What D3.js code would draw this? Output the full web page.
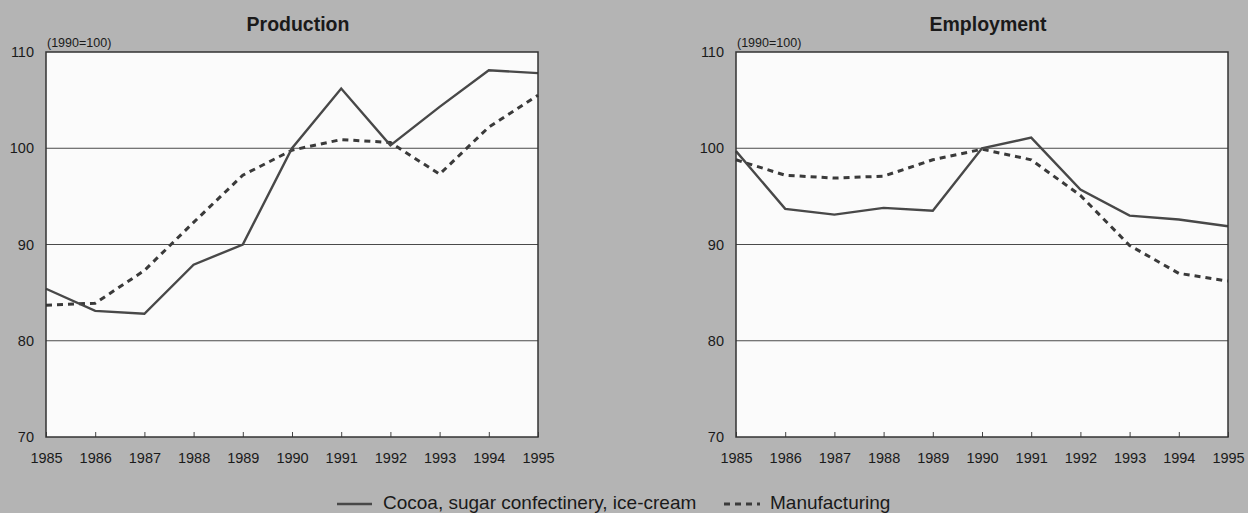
<!DOCTYPE html>
<html lang="en">
<head>
<meta charset="utf-8">
<title>Production and Employment</title>
<script src="https://d3js.org/d3.v7.min.js"></script>
<style>
	body { margin: 0; background: #b4b4b4; }
	text { font-family: 'Liberation Sans', Arial, sans-serif; fill: #1a1a1a; }
</style>
</head>
<body>
<script>
// years on the x axis
var years = [1985, 1986, 1987, 1988, 1989, 1990, 1991, 1992, 1993, 1994, 1995];
var yTicks = [70, 80, 90, 100, 110];

// Production index (1990=100)
var prodCocoa = [85.4, 83.1, 82.8, 87.9, 90.0, 100.0, 106.2, 100.3, 104.3, 108.1, 107.8];
var prodManu  = [83.7, 83.9, 87.3, 92.3, 97.2, 99.8, 100.9, 100.6, 97.3, 102.2, 105.5];

// Employment index (1990=100)
var empCocoa = [99.7, 93.7, 93.1, 93.8, 93.5, 100.0, 101.1, 95.7, 93.0, 92.6, 91.9];
var empManu  = [98.8, 97.2, 96.9, 97.1, 98.8, 99.9, 98.8, 95.1, 89.9, 87.0, 86.2];

var W = 1248, H = 513;
var svg = d3.select("body").append("svg")
	.attr("width", W)
	.attr("height", H);

svg.append("rect")
	.attr("width", W).attr("height", H)
	.attr("fill", "#b4b4b4");

var plotTop = 52, plotBottom = 437;

function drawPanel(left, right, title, cocoa, manu) {
	var x = d3.scaleLinear().domain([1985, 1995]).range([left, right]);
	var y = d3.scaleLinear().domain([70, 110]).range([plotBottom, plotTop]);
	var g = svg.append("g");

	// plot background
	g.append("rect")
		.attr("x", left).attr("y", plotTop)
		.attr("width", right - left).attr("height", plotBottom - plotTop)
		.attr("fill", "#fbfbfb");

	// gridlines
	g.selectAll(".grid")
		.data([80, 90, 100])
		.enter().append("line")
		.attr("x1", left).attr("x2", right)
		.attr("y1", function(d) { return y(d); })
		.attr("y2", function(d) { return y(d); })
		.attr("stroke", "#4a4a4a")
		.attr("stroke-width", 1);

	// y labels
	g.selectAll(".ylab")
		.data(yTicks)
		.enter().append("text")
		.attr("x", left - 12)
		.attr("y", function(d) { return y(d) + 5; })
		.attr("text-anchor", "end")
		.attr("font-size", 14.5)
		.text(function(d) { return d; });

	// x ticks (inward) and labels
	var xAxis = d3.axisBottom(x)
		.tickValues(years)
		.tickFormat(d3.format("d"))
		.tickSize(-5)
		.tickPadding(16);
	var ax = g.append("g")
		.attr("transform", "translate(0," + plotBottom + ")")
		.call(xAxis);
	ax.select(".domain").remove();
	ax.selectAll("line").attr("stroke", "#444");
	ax.selectAll("text")
		.attr("font-size", 14.5)
		.attr("fill", "#1a1a1a")
		.style("font-family", "'Liberation Sans', Arial, sans-serif");

	var line = d3.line()
		.x(function(d, i) { return x(years[i]); })
		.y(function(d) { return y(d); });

	g.append("path")
		.datum(manu)
		.attr("d", line)
		.attr("fill", "none")
		.attr("stroke", "#3a3a3a")
		.attr("stroke-width", 3)
		.attr("stroke-dasharray", "6,5");

	g.append("path")
		.datum(cocoa)
		.attr("d", line)
		.attr("fill", "none")
		.attr("stroke", "#484848")
		.attr("stroke-width", 2.4);

	// frame
	g.append("rect")
		.attr("x", left).attr("y", plotTop)
		.attr("width", right - left).attr("height", plotBottom - plotTop)
		.attr("fill", "none")
		.attr("stroke", "#333")
		.attr("stroke-width", 1.5);

	g.append("text")
		.attr("x", (left + right) / 2 + 6)
		.attr("y", 31)
		.attr("text-anchor", "middle")
		.attr("font-size", 19.5)
		.attr("font-weight", "bold")
		.text(title);

	g.append("text")
		.attr("x", left + 1)
		.attr("y", 47)
		.attr("font-size", 12.5)
		.text("(1990=100)");
}

drawPanel(46, 538, "Production", prodCocoa, prodManu);
drawPanel(736, 1228, "Employment", empCocoa, empManu);

// legend
var leg = svg.append("g");
leg.append("line")
	.attr("x1", 337).attr("x2", 372)
	.attr("y1", 504).attr("y2", 504)
	.attr("stroke", "#484848").attr("stroke-width", 2.4);
leg.append("text")
	.attr("x", 383).attr("y", 509)
	.attr("font-size", 19)
	.text("Cocoa, sugar confectinery, ice-cream");
leg.append("line")
	.attr("x1", 724).attr("x2", 760)
	.attr("y1", 504).attr("y2", 504)
	.attr("stroke", "#3a3a3a").attr("stroke-width", 3)
	.attr("stroke-dasharray", "6,5");
leg.append("text")
	.attr("x", 770).attr("y", 509)
	.attr("font-size", 19)
	.text("Manufacturing");
</script>
</body>
</html>
